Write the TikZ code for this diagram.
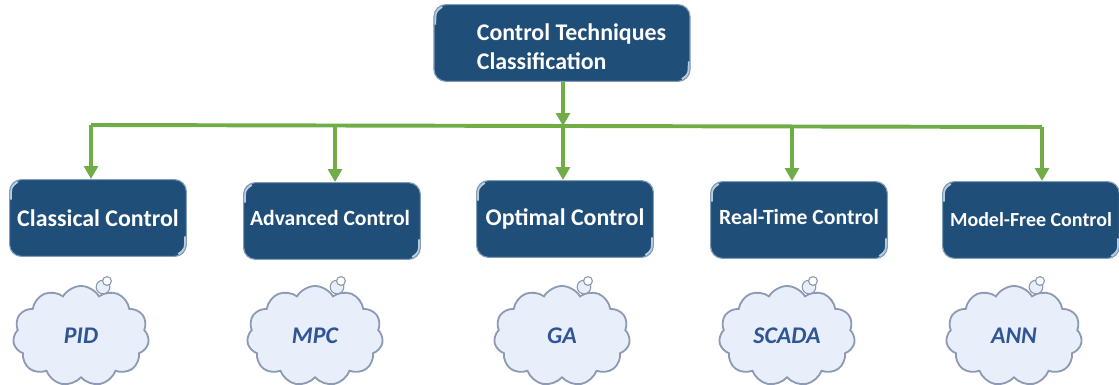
\documentclass[tikz,border=0pt]{standalone}
\usepackage{fontspec}
\usepackage{tikz}
\usetikzlibrary{shapes.symbols, arrows.meta}
\setmainfont{Carlito}
\definecolor{boxblue}{HTML}{1F4E79}
\definecolor{boxedge}{HTML}{7F9DB9}
\definecolor{boxshine}{HTML}{B9CDE0}
\definecolor{linkgreen}{HTML}{70AD47}
\definecolor{cloudfill}{HTML}{E8EEFA}
\definecolor{cloudedge}{HTML}{8C9BB3}
\definecolor{cloudtext}{HTML}{2F5597}
\tikzset{
	ctrlbox/.style={draw=boxedge, line width=0.8pt, fill=boxblue, rounded corners=0.3cm, minimum width=4.42cm, minimum height=1.92cm, inner sep=0pt, text=white, font=\bfseries,
		path picture={
			\draw[boxshine, line width=1.8pt, sharp corners] ([shift={(1,20)}]path picture bounding box.north west) .. controls ([shift={(1,7)}]path picture bounding box.north west) .. ([shift={(8,2)}]path picture bounding box.north west);
			\draw[boxshine, line width=1.8pt, sharp corners] ([shift={(-1,-20)}]path picture bounding box.south east) .. controls ([shift={(-1,-7)}]path picture bounding box.south east) .. ([shift={(-8,-2)}]path picture bounding box.south east);
		}},
	ctrlcloud/.style={cloud, cloud puffs=11, cloud puff arc=120, aspect=1.4, draw=cloudedge, line width=1.3pt, fill=cloudfill, minimum width=3.4cm, minimum height=2.5cm, inner sep=0pt, text=cloudtext, font=\fontsize{17}{20}\selectfont\itshape\bfseries},
	ctrlbubble/.style={circle, draw=cloudedge, line width=0.8pt, fill=cloudfill, inner sep=0pt},
	link/.style={draw=linkgreen, line width=2.8pt},
	linkarrow/.style={link, -{Triangle[length=0.32cm,width=0.34cm]}}
}
\begin{document}
\begin{tikzpicture}[x=0.025cm, y=-0.025cm]
\useasboundingbox (0,0) rectangle (1119,385);
\coordinate (busA) at (91,125);
\coordinate (busB) at (335,126);
\coordinate (busC) at (563,126);
\coordinate (busD) at (792,126);
\coordinate (busE) at (1042,127);
	\node[ctrlbox, minimum width=6.4cm, align=left, font=\bfseries\fontsize{17}{20.6}\selectfont] (root) at (562,43) {\rule{0pt}{0.6cm}\hspace*{0.475cm}Control Techniques\\\hspace*{0.475cm}Classification};
	\node[ctrlbox, font=\bfseries\fontsize{17}{20}\selectfont] (classical) at (98,218) {Classical Control};
	\node[ctrlbox, font=\bfseries\fontsize{15.4}{18}\selectfont] (advanced) at (332,221) {\raisebox{0.15cm}{Advanced Control\hspace*{0.1cm}}};
	\node[ctrlbox, font=\bfseries\fontsize{17}{20}\selectfont] (optimal) at (565,219) {Optimal Control};
	\node[ctrlbox, font=\bfseries\fontsize{15.4}{18}\selectfont] (realtime) at (799,220) {\raisebox{0.15cm}{Real-Time Control}};
	\node[ctrlbox, font=\bfseries\fontsize{14.2}{17}\selectfont] (modelfree) at (1031,220) {Model-Free Control};
	\node[ctrlcloud] (pid) at (81,336) {PID};
	\node[ctrlcloud] (mpc) at (315,336) {MPC};
	\node[ctrlcloud] (ga) at (562,336) {GA};
	\node[ctrlcloud] (scada) at (787,336) {SCADA};
	\node[ctrlcloud] (ann) at (1014,336) {ANN};
	\node[ctrlbubble, minimum size=0.34cm] (pidA) at ([shift={(22,-49)}]pid.center) {};
	\node[ctrlbubble, minimum size=0.22cm, fill=white] (pidB) at ([shift={(26,-55)}]pid.center) {};
	\node[ctrlbubble, minimum size=0.34cm] (mpcA) at ([shift={(22,-49)}]mpc.center) {};
	\node[ctrlbubble, minimum size=0.22cm, fill=white] (mpcB) at ([shift={(26,-55)}]mpc.center) {};
	\node[ctrlbubble, minimum size=0.34cm] (gaA) at ([shift={(22,-49)}]ga.center) {};
	\node[ctrlbubble, minimum size=0.22cm, fill=white] (gaB) at ([shift={(26,-55)}]ga.center) {};
	\node[ctrlbubble, minimum size=0.34cm] (scadaA) at ([shift={(22,-49)}]scada.center) {};
	\node[ctrlbubble, minimum size=0.22cm, fill=white] (scadaB) at ([shift={(26,-55)}]scada.center) {};
	\node[ctrlbubble, minimum size=0.34cm] (annA) at ([shift={(22,-49)}]ann.center) {};
	\node[ctrlbubble, minimum size=0.22cm, fill=white] (annB) at ([shift={(26,-55)}]ann.center) {};
	\draw[link] (busA) -- (busE);
	\draw[linkarrow] (root.south -| busC) -- (busC);
	\draw[linkarrow] (busA) -- (busA |- classical.north);
	\draw[linkarrow] (busB) -- (busB |- advanced.north);
	\draw[linkarrow] (busC) -- (busC |- optimal.north);
	\draw[linkarrow] (busD) -- (busD |- realtime.north);
	\draw[linkarrow] (busE) -- (busE |- modelfree.north);
\end{tikzpicture}
\end{document}
